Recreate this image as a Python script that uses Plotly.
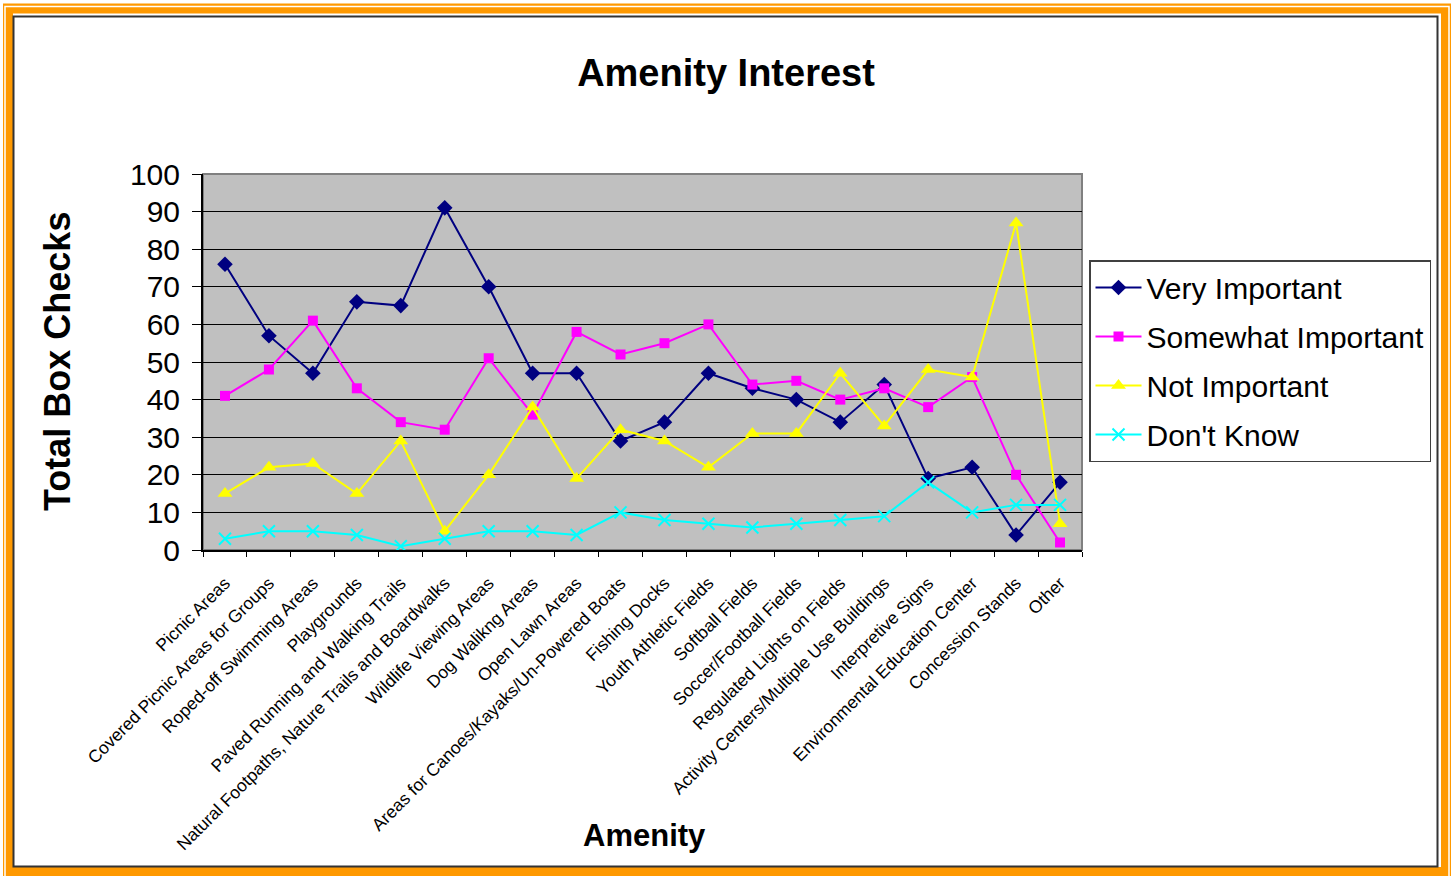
import plotly.graph_objects as go

categories = [
    "Picnic Areas",
    "Covered Picnic Areas for Groups",
    "Roped-off Swimming Areas",
    "Playgrounds",
    "Paved Running and Walking Trails",
    "Natural Footpaths, Nature Trails and Boardwalks",
    "Wildlife Viewing Areas",
    "Dog Walikng Areas",
    "Open Lawn Areas",
    "Areas for Canoes/Kayaks/Un-Powered Boats",
    "Fishing Docks",
    "Youth Athletic Fields",
    "Softball Fields",
    "Soccer/Football Fields",
    "Regulated Lights on Fields",
    "Activity Centers/Multiple Use Buildings",
    "Interpretive Signs",
    "Environmental Education Center",
    "Concession Stands",
    "Other",
]
very_important = [76, 57, 47, 66, 65, 91, 70, 47, 47, 29, 34, 47, 43, 40, 34, 44, 19, 22, 4, 18]
somewhat_important = [41, 48, 61, 43, 34, 32, 51, 36, 58, 52, 55, 60, 44, 45, 40, 43, 38, 46, 20, 2]
not_important = [15, 22, 23, 15, 29, 5, 20, 38, 19, 32, 29, 22, 31, 31, 47, 33, 48, 46, 87, 7]
dont_know = [3, 5, 5, 4, 1, 3, 5, 5, 4, 10, 8, 7, 6, 7, 8, 9, 18, 10, 12, 12]
y_ticks = list(range(0, 101, 10))

FONT = "Liberation Sans, Arial, sans-serif"
W, H = 1455, 876
L, R, T, B = 203, 1082, 174, 550
PW, PH = R - L, B - T


def px(x):
    return (x - L) / PW


def py(y):
    return (B - y) / PH


series = [
    ("Very Important", very_important, "#000080", "diamond", 12),
    ("Somewhat Important", somewhat_important, "#FF00FF", "square", 10),
    ("Not Important", not_important, "#FFFF00", "triangle-up", 13),
    ("Don't Know", dont_know, "#00FFFF", "x-thin", 12),
]

fig = go.Figure()
for i, (name, vals, col, sym, sz) in enumerate(series):
    fig.add_trace(go.Scatter(
        x=categories, y=vals, name=name, mode="lines+markers",
        legendgroup=f"g{i}",
        line=dict(color=col, width=2),
        marker=dict(color=col, symbol=sym, size=sz,
                    line=dict(color=col, width=2 if sym == "x-thin" else 0)),
    ))

shapes = [
    # orange outer frame
    dict(type="rect", xref="paper", yref="paper",
         x0=px(8), x1=px(1446), y0=py(8.5), y1=py(872),
         line=dict(color="#FF9900", width=10), layer="above"),
    dict(type="rect", xref="paper", yref="paper",
         x0=px(5), x1=px(1449), y0=py(6.5), y1=py(877),
         line=dict(color="#FFFFFF", width=1.5), layer="above"),
    # inner dark frame
    dict(type="rect", xref="paper", yref="paper",
         x0=px(13.5), x1=px(1437.5), y0=py(16.5), y1=py(866.5),
         line=dict(color="#333333", width=2), layer="above"),
    # plot area border (gray)
    dict(type="rect", xref="paper", yref="paper",
         x0=0, x1=1, y0=0, y1=1,
         line=dict(color="#808080", width=2), layer="below"),
]

annotations = [
    dict(text="<b>Total Box Checks</b>", xref="paper", yref="paper",
         x=px(57), y=py(362), xanchor="center", yanchor="middle",
         textangle=-90, showarrow=False,
         font=dict(family=FONT, size=36, color="black")),
    dict(text="<b>Amenity</b>", xref="paper", yref="paper",
         x=px(644), y=py(835), xanchor="center", yanchor="middle",
         showarrow=False, font=dict(family=FONT, size=31, color="black")),
]

fig.update_layout(
    width=W, height=H,
    margin=dict(l=L, r=W - R, t=T, b=H - B, pad=0),
    paper_bgcolor="white",
    plot_bgcolor="#C0C0C0",
    font=dict(family=FONT, color="black"),
    title=dict(text="<b>Amenity Interest</b>", xref="container", yref="container",
               x=726 / W, y=1 - 73 / H, xanchor="center", yanchor="middle",
               font=dict(family=FONT, size=38, color="black")),
    xaxis=dict(
        type="category", range=[-0.5, len(categories) - 0.5],
        tickangle=-45, tickfont=dict(family=FONT, size=17.5, color="black"),
        tickson="boundaries", ticks="outside", ticklen=5, tickcolor="black",
        ticklabelstandoff=14,
        showgrid=False, showline=True, linecolor="black", linewidth=2,
        zeroline=False,
    ),
    yaxis=dict(
        range=[0, 100], tickvals=y_ticks,
        tickfont=dict(family=FONT, size=30, color="black"),
        ticks="outside", ticklen=9, tickcolor="black", ticklabelstandoff=6,
        showgrid=True, gridcolor="black", gridwidth=1,
        showline=True, linecolor="black", linewidth=2, zeroline=False,
    ),
    legend=dict(
        x=px(1089), y=py(260), xanchor="left", yanchor="top",
        bgcolor="white", bordercolor="#404040", borderwidth=1.5,
        font=dict(family=FONT, size=30, color="black"),
        tracegroupgap=7, itemwidth=46,
    ),
    shapes=shapes,
    annotations=annotations,
)

fig.write_html("out.html", config={"displayModeBar": False},
               post_script="document.body.style.margin='0';document.body.style.overflow='hidden';")
